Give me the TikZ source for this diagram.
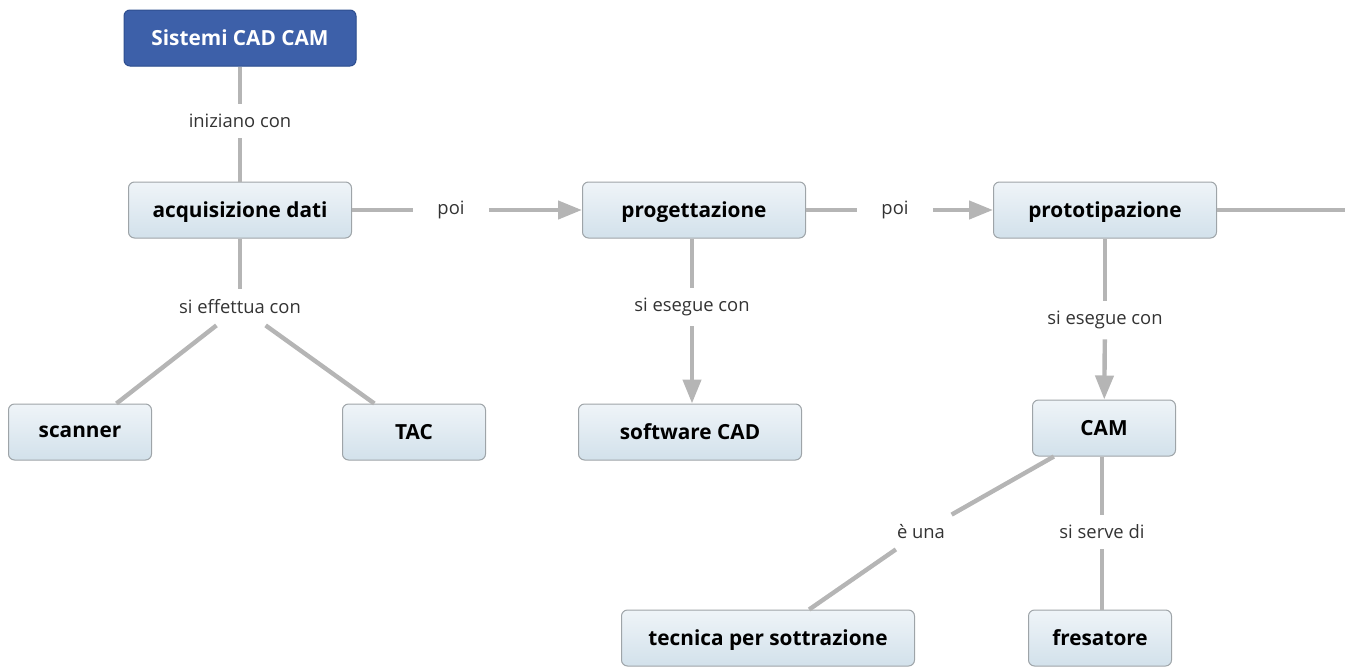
\documentclass[tikz,border=0pt]{standalone}
\usepackage{fontspec}
\setmainfont{Open Sans}
\usetikzlibrary{arrows.meta,positioning}
\definecolor{cmBlue}{HTML}{3D60A9}
\definecolor{cmBlueEdge}{HTML}{2E4E8F}
\definecolor{cmLine}{HTML}{B5B5B5}
\definecolor{cmTop}{HTML}{EFF4F8}
\definecolor{cmBottom}{HTML}{D2E1EB}
\definecolor{cmEdge}{HTML}{9EA4A8}
\definecolor{cmText}{HTML}{333333}
\newcommand{\conceptfont}{\bfseries\fontsize{10.4}{12}\selectfont}
\newcommand{\linkfont}{\fontsize{9.2}{11}\selectfont}

\begin{document}
\begin{tikzpicture}[x=0.5pt,y=-0.5pt,
    concept/.style={draw=cmEdge,line width=0.5pt,rounded corners=3pt,
      top color=cmTop,bottom color=cmBottom,font=\conceptfont,
      minimum height=28pt,minimum width=111.5pt,inner sep=2pt,
      text depth=0.5pt},
    rootconcept/.style={concept,draw=cmBlueEdge,fill=cmBlue,top color=cmBlue,
      bottom color=cmBlue,text=white,minimum width=116pt},
    linkword/.style={font=\linkfont,text=cmText,inner sep=0pt,
      minimum height=17pt,minimum width=37.5pt},
    link/.style={draw=cmLine,line width=2.2pt},
    linkarrow/.style={link,-{Triangle[length=12pt,width=9pt]}}]
  \useasboundingbox (0,0) rectangle (1345,670);

  % concepts
  \node[rootconcept] (root) at (240,38) {Sistemi CAD CAM};
  \node[concept] (acq) at (240,210) {acquisizione dati};
  \node[concept] (prog) at (694,210) {progettazione};
  \node[concept] (proto) at (1105,210) {prototipazione};
  \node[concept,minimum width=71.5pt] (scanner) at (80,432) {scanner};
  \node[concept,minimum width=71.5pt] (tac) at (414,432) {TAC};
  \node[concept] (cad) at (690,432) {software CAD};
  \node[concept,minimum width=71.5pt] (cam) at (1104,428) {CAM};
  \node[concept,minimum width=146.5pt] (tecnica) at (768,638) {tecnica per sottrazione};
  \node[concept,minimum width=71.5pt] (fresa) at (1100,638) {fresatore};
  \coordinate (offright) at (1345,210);

  % linking words
  \node[linkword] (iniz) at (240,121) {iniziano con};
  \node[linkword] (poiA) at (451,210) {poi};
  \node[linkword] (poiB) at (895,210) {poi};
  \node[linkword,minimum height=18pt] (effet) at (240,307) {si effettua con};
  \node[linkword,minimum height=19pt] (eseA) at (692,307) {si esegue con};
  \node[linkword,minimum height=19pt] (eseB) at (1105,320) {si esegue con};
  \node[linkword] (euna) at (921,532) {è una};
  \node[linkword] (serve) at (1102,532) {si serve di};

  % connectors
  \draw[link] (root) -- (iniz);
  \draw[link] (iniz) -- (acq);
  \draw[link] (acq.east) -- (poiA.west);
  \draw[linkarrow] (poiA.east) -- (prog.west);
  \draw[link] (prog.east) -- (poiB.west);
  \draw[linkarrow] (poiB.east) -- (proto.west);
  \draw[link] (proto) -- (offright);
  \draw[link] (acq) -- (effet);
  \draw[link] (effet) -- (scanner);
  \draw[link] (effet) -- (tac);
  \draw[link] (prog.south -| eseA) -- (eseA);
  \draw[linkarrow] (eseA) -- (cad.north -| eseA);
  \draw[link] (proto) -- (eseB);
  \draw[linkarrow] (eseB) -- (cam);
  \draw[link] (cam) -- (euna);
  \draw[link] (euna) -- (tecnica);
  \draw[link] (cam.south -| serve) -- (serve);
  \draw[link] (serve) -- (fresa.north -| serve);
\end{tikzpicture}
\end{document}
